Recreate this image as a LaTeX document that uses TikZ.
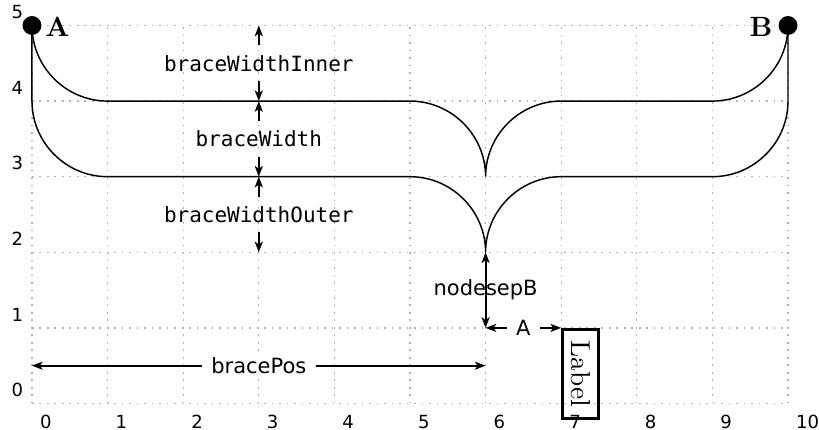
\documentclass[tikz,border=0pt]{standalone}
\usepackage{fontspec}
\newfontfamily\monof{DejaVu Sans Mono}
\newfontfamily\sansf{DejaVu Sans}
\usetikzlibrary{arrows.meta}
\tikzset{
  gridline/.style={gray!60, line width=0.5pt, dash pattern=on 0.6pt off 2.22pt},
  axlab/.style={font=\sansf\fontsize{6.8}{8}\selectfont, inner sep=0pt},
  dotnode/.style={circle, fill=black, inner sep=0pt, minimum size=0.25cm},
  ptlab/.style={font=\bfseries\fontsize{10.5}{12}\selectfont, inner sep=0pt},
  bracepath/.style={line width=0.55pt},
  arr/.style={line width=0.75pt, -{Stealth[length=4pt,width=3pt,inset=1pt]}},
  darr/.style={line width=0.75pt, {Stealth[length=4pt,width=3pt,inset=1pt]}-{Stealth[length=4pt,width=3pt,inset=1pt]}},
  monolab/.style={font=\monof\fontsize{7.9}{9}\selectfont, inner xsep=2pt, inner ysep=3.5pt},
  sanslab/.style={font=\sansf\fontsize{7.9}{9}\selectfont, inner xsep=3.6pt, inner ysep=2pt},
  labelbox/.style={draw, line width=1pt, font=\fontsize{10.3}{12}\selectfont, inner xsep=4.3pt, inner ysep=3.2pt}
}
\begin{document}
\begin{tikzpicture}
\useasboundingbox (-0.423,-0.35) rectangle (10.41,5.337);
% grid
\draw[gridline] (0,0) grid (10,5);
\foreach \x in {0,...,10} \node[axlab, anchor=north west] at (\x+0.1,-0.145) {\x};
\foreach \y in {0,...,5} \node[axlab, anchor=south east] at (-0.11,\y+0.08) {\y};
% end points
\node[dotnode] (A) at (0,5) {};
\node[dotnode] (B) at (10,5) {};
\node[ptlab, anchor=base west] (Al) at (0.17,4.86) {A};
\node[ptlab, anchor=base east] (Bl) at (9.80,4.86) {B};
% brace inner edge
\draw[bracepath] (A.center) .. controls (0,4.45) and (0.45,4) .. (1,4) -- (5,4)
  .. controls (5.55,4) and (6,3.55) .. (6,3)
  .. controls (6,3.55) and (6.45,4) .. (7,4) -- (9,4)
  .. controls (9.55,4) and (10,4.45) .. (B.center);
% brace outer edge
\draw[bracepath] (A.center) -- (0,4) .. controls (0,3.45) and (0.45,3) .. (1,3) -- (5,3)
  .. controls (5.55,3) and (6,2.55) .. (6,2)
  .. controls (6,2.55) and (6.45,3) .. (7,3) -- (9,3)
  .. controls (9.55,3) and (10,3.45) .. (10,4) -- (B.center);
% width annotations
\coordinate (w5) at (3,5);
\coordinate (w4) at (3,4);
\coordinate (w3) at (3,3);
\coordinate (w2) at (3,2);
\node[monolab] (lInner) at (3,4.5) {braceWidthInner};
\node[monolab] (lWidth) at (3,3.5) {braceWidth};
\node[monolab] (lOuter) at (3,2.5) {braceWidthOuter};
\draw[arr] (lInner) -- (w5);
\draw[arr] (lInner) -- (w4);
\draw[arr] (lWidth) -- (w4);
\draw[arr] (lWidth) -- (w3);
\draw[arr] (lOuter) -- (w3);
\draw[arr] (lOuter) -- (w2);
% node separations
\coordinate (tip) at (6,2);
\coordinate (c61) at (6,1);
\node[labelbox, rotate=-90, anchor=south west] (L) at (7,1) {Label};
\draw[darr] (tip) -- (c61) node[midway, sanslab, inner sep=0pt] (lsepB) {nodesepB};
\draw[darr] (c61) -- (L.south west) node[midway, sanslab, fill=white] (lsepA) {A};
% brace position
\coordinate (p0) at (0,0.5);
\coordinate (p6) at (6,0.5);
\draw[darr] (p0) -- (p6) node[midway, sanslab, fill=white] (lpos) {bracePos};
\end{tikzpicture}
\end{document}
